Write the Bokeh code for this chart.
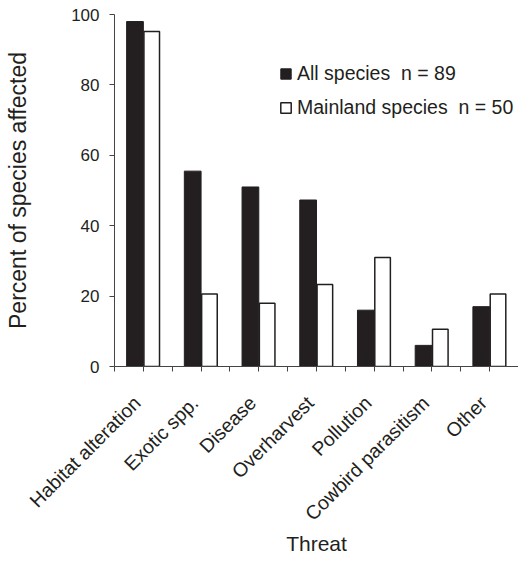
import math
from bokeh.plotting import figure
from bokeh.models import (ColumnDataSource, Range1d, FixedTicker, Legend, LegendItem,
                          LinearAxis)
from bokeh.transform import dodge
from bokeh.embed import file_html
from bokeh.resources import INLINE

threats = ["Habitat alteration", "Exotic spp.", "Disease", "Overharvest",
           "Pollution", "Cowbird parasitism", "Other"]
all_species = [98, 55.5, 51, 47.3, 16, 6, 17]
mainland_species = [95.2, 20.6, 18, 23.3, 31, 10.6, 20.6]
y_ticks = [0, 20, 40, 60, 80, 100]
series_labels = ["All species  n = 89", "Mainland species  n = 50"]

INK = "#231f20"
AX = "#444444"
FONT = "Liberation Sans"

n = len(threats)
centers = [i + 0.5 for i in range(n)]
src = ColumnDataSource(dict(x=centers, threat=threats,
                            all=all_species, main=mainland_species))

p = figure(width=518, height=561, output_backend="svg", toolbar_location=None,
           x_range=Range1d(0, n), y_range=Range1d(0, 100),
           min_border_left=114, min_border_right=0, min_border_top=14, min_border_bottom=195)
p.outline_line_color = None
p.grid.visible = False
p.background_fill_color = "white"

r1 = p.vbar(x=dodge("x", -0.145, range=p.x_range), top="all", width=0.29, source=src,
            fill_color=INK, line_color=INK, line_width=1)
r2 = p.vbar(x=dodge("x", 0.145, range=p.x_range), top="main", width=0.27, source=src,
            fill_color="white", line_color=INK, line_width=1.5)

# x axis 1: tick marks at group bounds and group centers, no labels
xticks = [i * 0.5 for i in range(2 * n + 1)]
xa = p.xaxis[0]
xa.ticker = FixedTicker(ticks=xticks, minor_ticks=[])
xa.major_label_overrides = {t: "" for t in xticks}
xa.major_label_text_font_size = "0px"
xa.major_tick_in = 0
xa.major_tick_out = 5
xa.minor_tick_line_color = None
xa.axis_line_color = AX
xa.major_tick_line_color = AX
xa.major_label_standoff = 0

# x axis 2: the category names, rotated, no line and no tick marks
label_shift = 0.11
label_ticks = [c - label_shift for c in centers]
xb = LinearAxis(ticker=FixedTicker(ticks=label_ticks, minor_ticks=[]),
                major_label_overrides={t: name for t, name in zip(label_ticks, threats)},
                major_label_orientation=math.pi / 4)
xb.axis_line_color = None
xb.major_tick_line_color = None
xb.minor_tick_line_color = None
xb.major_tick_in = 0
xb.major_tick_out = 0
xb.major_label_standoff = 28
xb.major_label_text_font = FONT
xb.major_label_text_font_size = "19.5px"
xb.major_label_text_color = INK
xb.axis_label = "Threat"
xb.axis_label_text_font = FONT
xb.axis_label_text_font_size = "21px"
xb.axis_label_text_font_style = "normal"
xb.axis_label_text_color = INK
xb.axis_label_standoff = -3
p.add_layout(xb, "below")

ya = p.yaxis[0]
ya.ticker = FixedTicker(ticks=y_ticks, minor_ticks=[])
ya.major_tick_in = 0
ya.major_tick_out = 5
ya.axis_line_color = AX
ya.major_tick_line_color = AX
ya.major_label_text_font = FONT
ya.major_label_text_font_size = "17px"
ya.major_label_text_color = INK
ya.major_label_standoff = 10
ya.axis_label = "Percent of species affected"
ya.axis_label_text_font = FONT
ya.axis_label_text_font_size = "23px"
ya.axis_label_text_font_style = "normal"
ya.axis_label_text_color = INK
ya.axis_label_standoff = 37

legend = Legend(items=[LegendItem(label=series_labels[0], renderers=[r1]),
                       LegendItem(label=series_labels[1], renderers=[r2])],
                location=(165, 247))
legend.border_line_color = None
legend.background_fill_alpha = 0
legend.padding = 0
legend.margin = 0
legend.glyph_width = 13
legend.glyph_height = 13
legend.label_height = 20
legend.spacing = 11
legend.label_standoff = 5
legend.label_text_font = FONT
legend.label_text_font_size = "19.5px"
legend.label_text_color = INK
p.add_layout(legend)

open("out.html", "w").write(file_html(p, INLINE))
